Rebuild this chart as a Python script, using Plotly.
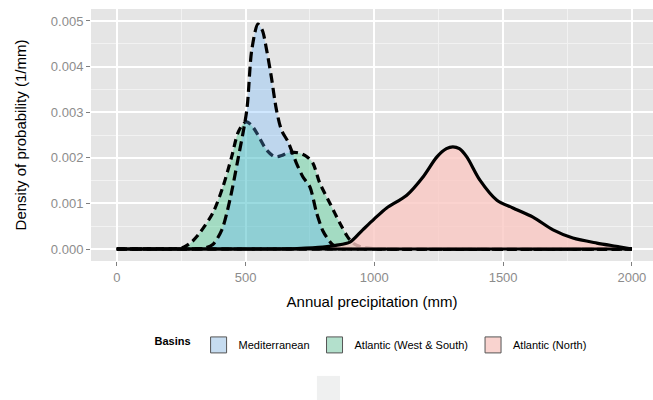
import plotly.graph_objects as go

# ---- data ----
series_names = ["Mediterranean", "Atlantic (West & South)", "Atlantic (North)"]

med_x = [0, 300, 340, 373, 408, 439, 470, 505, 524, 548, 565, 582, 600, 620, 640, 665,
         697, 723, 750, 776, 800, 815, 839, 870, 900, 1000, 2000]
med_y = [0, 0, 0.00002, 0.0001, 0.00042, 0.00107, 0.00195, 0.00305, 0.00436, 0.00493,
         0.0048, 0.00436, 0.00378, 0.00305, 0.0026, 0.00235, 0.00189, 0.00158, 0.00136,
         0.00079, 0.0004, 0.00026, 0.00009, 0.00002, 0.00001, 0, 0]

ws_x = [0, 200, 252, 290, 322, 373, 412, 446, 470, 490, 505, 525, 544, 582, 614, 640,
        660, 690, 711, 737, 761, 788, 827, 866, 897, 917, 950, 1000, 2000]
ws_y = [0, 0.000005, 0.00002, 0.00015, 0.00035, 0.00079, 0.00136, 0.00202, 0.00254,
        0.00274, 0.00279, 0.0027, 0.00254, 0.00217, 0.00202, 0.00205, 0.0021, 0.00212,
        0.0021, 0.00203, 0.00189, 0.00145, 0.00101, 0.00057, 0.00026, 0.00013, 0.00004,
        0.00001, 0]

north_x = [0, 600, 700, 800, 850, 905, 955, 1000, 1048, 1126, 1189, 1243, 1280, 1305,
           1330, 1359, 1410, 1476, 1538, 1616, 1694, 1771, 1864, 1950, 2000]
north_y = [0, 0, 0.00001, 0.00004, 0.00008, 0.00015, 0.00042, 0.00066, 0.0009, 0.00118,
           0.00158, 0.00202, 0.0022, 0.00224, 0.0022, 0.00202, 0.00151, 0.00107, 0.0009,
           0.0007, 0.00042, 0.00024, 0.00013, 0.00005, 0]

x_ticks = [0, 500, 1000, 1500, 2000]
y_ticks = [0, 0.001, 0.002, 0.003, 0.004, 0.005]

# ---- styles ----
FONT = "Liberation Sans, Arial, Helvetica, sans-serif"
fills = {
    "Mediterranean": "rgba(100,180,255,0.30)",
    "Atlantic (West & South)": "rgba(40,200,130,0.35)",
    "Atlantic (North)": "rgba(250,200,195,0.80)",
}
key_colors = {
    "Mediterranean": "#c6dcf0",
    "Atlantic (West & South)": "#b3e0cc",
    "Atlantic (North)": "#f9d3cf",
}
dashes = {
    "Mediterranean": "10px,5px",
    "Atlantic (West & South)": "8px,5px",
    "Atlantic (North)": "solid",
}
ranks = {"Mediterranean": 1, "Atlantic (West & South)": 2, "Atlantic (North)": 3}
LW = 3.2

fig = go.Figure()
# draw order: West&South, Mediterranean, North; each density drawn as area + bottom edge
for name, xs, ys in [("Atlantic (West & South)", ws_x, ws_y),
                     ("Mediterranean", med_x, med_y),
                     ("Atlantic (North)", north_x, north_y)]:
    fig.add_trace(go.Scatter(
        x=xs, y=ys, name=name, mode="lines", fill="tozeroy",
        fillcolor=fills[name],
        line=dict(color="black", width=LW, dash=dashes[name], shape="spline", smoothing=0.8),
        showlegend=False, hoverinfo="x+y+name",
    ))
    fig.add_trace(go.Scatter(
        x=[min(xs), max(xs)], y=[0, 0], mode="lines",
        line=dict(color="black", width=LW, dash=dashes[name]),
        showlegend=False, hoverinfo="skip",
    ))

# legend keys
for name in series_names:
    fig.add_trace(go.Scatter(
        x=[None], y=[None], name=name, mode="markers",
        marker=dict(symbol="square", size=16, color=key_colors[name],
                    line=dict(color="#555555", width=1)),
        legendrank=ranks[name], showlegend=True,
    ))

axis_common = dict(
    showline=False, zeroline=False, showgrid=True, gridcolor="white", gridwidth=1.6,
    ticks="outside", ticklen=4, tickwidth=1.3, tickcolor="#7f7f7f",
    tickfont=dict(family=FONT, size=13, color="#8c8c8c"),
)

fig.update_xaxes(
    **axis_common, range=[-100, 2082], tickvals=x_ticks,
    minor=dict(dtick=250, tick0=250, showgrid=True, gridcolor="#f2f2f2", gridwidth=0.8, ticks=""),
    title=dict(text="Annual precipitation (mm)", font=dict(family=FONT, size=15, color="black"),
               standoff=12),
)
fig.update_yaxes(
    **axis_common, range=[-0.000263, 0.005263], tickvals=y_ticks, tickformat=".3f",
    minor=dict(dtick=0.0005, tick0=0.0005, showgrid=True, gridcolor="#f2f2f2", gridwidth=0.8, ticks=""),
    title=dict(text="Density of probability (1/mm)", font=dict(family=FONT, size=15, color="black"),
               standoff=20),
)

fig.add_shape(type="rect", xref="paper", yref="paper", x0=0.402, x1=0.443, y0=-0.552, y1=-0.456,
              fillcolor="#eff0f0", line=dict(width=0), layer="above")

fig.update_layout(
    width=653, height=400, autosize=False,
    margin=dict(l=91, r=0, t=9, b=139),
    paper_bgcolor="white", plot_bgcolor="#e5e5e5",
    font=dict(family=FONT, size=11, color="black"),
    legend=dict(
        orientation="h", x=0.5, xanchor="center", y=-0.333, yanchor="middle",
        title=dict(text="<b>Basins</b>", font=dict(family=FONT, size=11)),
        font=dict(family=FONT, size=11, color="black"),
        itemwidth=30, traceorder="normal",
    ),
    showlegend=True,
)

fig.write_html("out.html")
